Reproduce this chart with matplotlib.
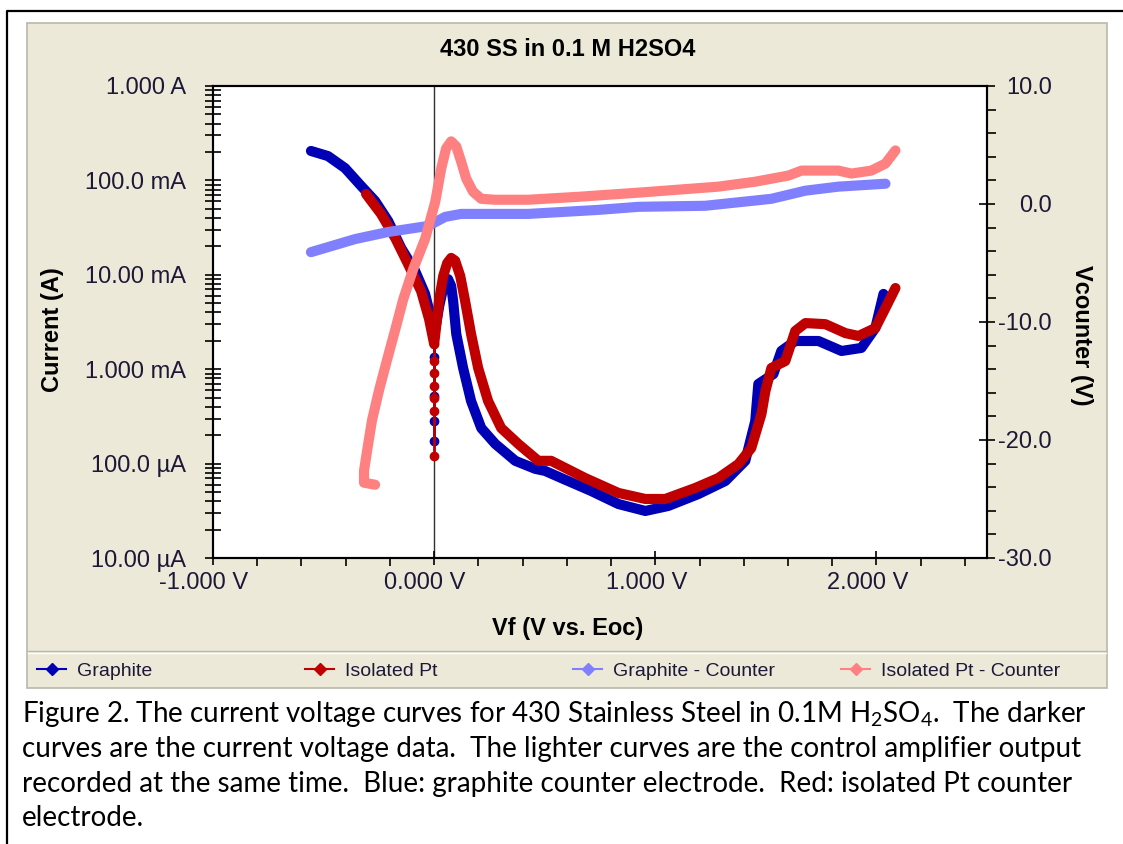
import matplotlib
matplotlib.use('Agg')
import matplotlib.pyplot as plt
from matplotlib.patches import Rectangle
from matplotlib.lines import Line2D
from matplotlib.transforms import ScaledTranslation
from matplotlib.ticker import FixedLocator, LogLocator, NullFormatter, MultipleLocator

plt.rcParams['font.family'] = ['Liberation Sans', 'DejaVu Sans']
plt.rcParams['mathtext.fontset'] = 'custom'
plt.rcParams['mathtext.rm'] = 'Lato'
plt.rcParams['mathtext.it'] = 'Lato:italic'
plt.rcParams['mathtext.bf'] = 'Lato:bold'

# ---------------- data ----------------
title = "430 SS in 0.1 M H2SO4"
series_names = ["Graphite", "Isolated Pt", "Graphite - Counter", "Isolated Pt - Counter"]

graphite_v = [-0.557, -0.48, -0.403, -0.33, -0.267, -0.208, -0.149, -0.086, -0.041, -0.014, 0.0,
              0.023, 0.045, 0.063, 0.077, 0.086, 0.1, 0.131, 0.167, 0.213, 0.276, 0.367, 0.457,
              0.502, 0.575, 0.71, 0.833, 0.955, 1.059, 1.195, 1.317, 1.407, 1.452, 1.466, 1.534,
              1.57, 1.633, 1.738, 1.842, 1.932, 1.995, 2.032]
graphite_i = [0.205, 0.181, 0.135, 0.0873, 0.0605, 0.0372, 0.0192, 0.011, 0.00627, 0.00348, 0.00225,
              0.00467, 0.008, 0.009, 0.0076, 0.00527, 0.00236, 0.00103, 4.6e-4, 2.38e-4, 1.62e-4,
              1.07e-4, 8.8e-5, 8.36e-5, 7.03e-5, 5.13e-5, 3.73e-5, 3.15e-5, 3.56e-5, 4.76e-5,
              6.55e-5, 1.07e-4, 2.82e-4, 6.97e-4, 8.89e-4, 1.56e-3, 1.99e-3, 1.99e-3, 1.56e-3,
              1.68e-3, 2.73e-3, 6.27e-3]
graphite_spike_v = [0.0, 0.0, 0.0, 0.0, 0.0]
graphite_spike_i = [2.25e-3, 1.35e-3, 5.2e-4, 2.8e-4, 1.73e-4]

pt_v = [-0.308, -0.24, -0.176, -0.118, -0.059, -0.023, 0.0, 0.023, 0.041, 0.059, 0.077, 0.095,
        0.118, 0.14, 0.167, 0.199, 0.244, 0.303, 0.38, 0.471, 0.529, 0.683, 0.833, 0.955, 1.045,
        1.181, 1.285, 1.376, 1.434, 1.48, 1.498, 1.525, 1.588, 1.633, 1.679, 1.769, 1.86, 1.919,
        1.995, 2.041, 2.086]
pt_i = [0.0718, 0.0441, 0.0245, 0.013, 0.00673, 0.0034, 0.00185, 0.0055, 0.0097, 0.0133, 0.0151,
        0.0141, 0.0097, 0.00527, 0.00236, 0.00103, 4.6e-4, 2.38e-4, 1.62e-4, 1.07e-4, 1.07e-4,
        7.03e-5, 4.89e-5, 4.22e-5, 4.22e-5, 5.52e-5, 7.03e-5, 9.9e-5, 1.46e-4, 3.35e-4, 5.87e-4,
        1.03e-3, 1.22e-3, 2.54e-3, 3.08e-3, 3.0e-3, 2.41e-3, 2.25e-3, 2.73e-3, 4.45e-3, 7.24e-3]
pt_spike_v = [0.0, 0.0, 0.0, 0.0, 0.0, 0.0, 0.0]
pt_spike_i = [1.85e-3, 1.22e-3, 9.1e-4, 6.6e-4, 4.95e-4, 3.6e-4, 1.2e-4]

gr_counter_v = [-0.557, -0.357, -0.208, -0.027, 0.05, 0.122, 0.425, 0.742, 0.923, 1.226, 1.525,
                1.679, 1.828, 2.041]
gr_counter_vc = [-4.08, -2.97, -2.37, -1.86, -1.09, -0.84, -0.84, -0.5, -0.24, -0.15, 0.44,
                 1.13, 1.47, 1.72]

pt_counter_v = [-0.267, -0.317, -0.317, -0.303, -0.281, -0.249, -0.213, -0.176, -0.14, -0.095,
                -0.041, 0.005, 0.032, 0.054, 0.077, 0.1, 0.122, 0.145, 0.176, 0.213, 0.276, 0.425,
                0.652, 0.923, 1.285, 1.452, 1.602, 1.661, 1.828, 1.887, 1.977, 2.041, 2.086]
pt_counter_vc = [-23.79, -23.62, -22.59, -20.89, -18.33, -15.77, -13.21, -10.65, -8.09, -5.53,
                 -2.97, 0.19, 3.0, 4.71, 5.31, 4.88, 3.6, 2.15, 1.04, 0.44, 0.36, 0.36, 0.61,
                 0.96, 1.47, 1.89, 2.41, 2.83, 2.83, 2.58, 2.83, 3.43, 4.54]

x_major = [-1.0, 0.0, 1.0, 2.0]
x_labels = ["-1.000 V", "0.000 V", "1.000 V", "2.000 V"]
y_major = [1e-5, 1e-4, 1e-3, 1e-2, 1e-1, 1.0]
y_labels = ["10.00 µA", "100.0 µA", "1.000 mA", "10.00 mA", "100.0 mA", "1.000 A"]
y2_major = [-30, -20, -10, 0, 10]
y2_labels = ["-30.0", "-20.0", "-10.0", "0.0", "10.0"]

caption_lines = [
    "Figure 2. The current voltage curves for 430 Stainless Steel in 0.1M H$_\\mathrm{2}$SO$_\\mathrm{4}$.  The darker",
    "curves are the current voltage data.  The lighter curves are the control amplifier output",
    "recorded at the same time.  Blue: graphite counter electrode.  Red: isolated Pt counter",
    "electrode.",
]

# ---------------- styling ----------------
W, H = 1123, 844
C_GR = '#0000B4'
C_PT = '#C00000'
C_GRC = '#8080FF'
C_PTC = '#FF8080'
BEIGE = '#ECE9D8'
TICKC = '#1E1838'

def fx(px):
    return px / W

def fy(py):
    return 1 - py / H

fig = plt.figure(figsize=(W / 100, H / 100), dpi=100)
fig.patch.set_facecolor('white')

# outer frame + panel
fig.patches.append(Rectangle((fx(27), fy(688)), fx(1107) - fx(27), fy(23) - fy(688),
                             transform=fig.transFigure, facecolor=BEIGE, edgecolor='#B8B8AC',
                             lw=1.2, zorder=-10))
fig.add_artist(Line2D([fx(28), fx(1106)], [fy(651), fy(651)], transform=fig.transFigure,
                      color='#B8B8AC', lw=1.0, zorder=-5))
fig.add_artist(Line2D([fx(28), fx(1106)], [fy(653), fy(653)], transform=fig.transFigure,
                      color='#FFFFFF', lw=1.0, zorder=-5))
fig.add_artist(Line2D([fx(7), fx(7), fx(1123)], [fy(844), fy(11), fy(11)], transform=fig.transFigure,
                      color='black', lw=1.6, zorder=-5))

L, R, T, B = 213, 987, 86, 558
ax = fig.add_axes([fx(L), fy(B), fx(R) - fx(L), fy(T) - fy(B)])
ax.set_zorder(1)
ax.set_facecolor('white')
ax.set_yscale('log')
ax.set_xlim(-1.0, 2.5)
ax.set_ylim(1e-5, 1.0)
ax.axvline(0, color='#303030', lw=1.0, zorder=1)

lw = 7.3
ax.plot(graphite_v, graphite_i, color=C_GR, lw=lw, solid_capstyle='round', solid_joinstyle='round', zorder=3)
ax.plot(graphite_spike_v, graphite_spike_i, color=C_GR, lw=2, marker='o', ms=6, zorder=3)
ax.plot(pt_spike_v, pt_spike_i, color=C_PT, lw=2, marker='o', ms=6, zorder=4)
ax.plot(pt_v, pt_i, color=C_PT, lw=lw, solid_capstyle='round', solid_joinstyle='round', zorder=4)

ax.xaxis.set_major_locator(FixedLocator(x_major))
ax.set_xticklabels(x_labels)
ax.xaxis.set_minor_locator(MultipleLocator(0.2))
ax.yaxis.set_major_locator(FixedLocator(y_major))
ax.set_yticklabels(y_labels)
ax.yaxis.set_minor_locator(LogLocator(base=10, subs=[2, 3, 4, 5, 6, 7, 8, 9], numticks=20))
ax.yaxis.set_minor_formatter(NullFormatter())

ax.tick_params(axis='y', which='major', direction='inout', length=11.5, width=1.2, pad=13.5,
               labelsize=17, labelcolor=TICKC)
ax.tick_params(axis='y', which='minor', direction='inout', length=11.5, width=1.2)
ax.tick_params(axis='x', which='major', direction='inout', length=10.5, width=1.2, pad=5,
               labelsize=17, labelcolor=TICKC, top=False)
ax.tick_params(axis='x', which='minor', direction='out', length=6, width=1.2, top=False)
for lab in ax.get_xticklabels():
    lab.set_transform(lab.get_transform() + ScaledTranslation(-9 / 100, 0, fig.dpi_scale_trans))
for s in ax.spines.values():
    s.set_linewidth(1.5)
    s.set_color('black')

ax2 = ax.twinx()
ax2.set_ylim(-30, 10)
ax2.plot(gr_counter_v, gr_counter_vc, color=C_GRC, lw=lw, solid_capstyle='round', solid_joinstyle='round', zorder=3)
ax2.plot(pt_counter_v, pt_counter_vc, color=C_PTC, lw=lw, solid_capstyle='round', solid_joinstyle='round', zorder=4)
ax2.yaxis.set_major_locator(FixedLocator(y2_major))
ax2.set_yticklabels(y2_labels, ha='right')
ax2.yaxis.set_minor_locator(MultipleLocator(2))
ax2.tick_params(axis='y', which='major', direction='inout', length=11.5, width=1.2, pad=41,
                labelsize=17, labelcolor=TICKC)
ax2.tick_params(axis='y', which='minor', direction='out', length=6.5, width=1.2)
for s in ax2.spines.values():
    s.set_linewidth(1.5)

# titles and axis labels
fig.text(fx(568), fy(50), title, ha='center', va='center', fontsize=17, fontweight='bold')
fig.text(fx(568), fy(628), "Vf (V vs. Eoc)", ha='center', va='center', fontsize=17, fontweight='bold')
fig.text(fx(53), fy(330), "Current (A)", ha='center', va='center', rotation=90, fontsize=17,
         fontweight='bold')
fig.text(fx(1082), fy(335), "Vcounter (V)", ha='center', va='center', rotation=270, fontsize=17,
         fontweight='bold')

# legend
leg_colors = [C_GR, C_PT, C_GRC, C_PTC]
leg_x = [37, 305, 573, 841]
for name, c, lx in zip(series_names, leg_colors, leg_x):
    h = Line2D([], [], color=c, lw=1.5, marker='D', ms=6.5)
    fig.legend([h], [name], loc='center left', bbox_to_anchor=(fx(lx), fy(671)), frameon=False,
               fontsize=14, handlelength=1.5, handletextpad=0.55, borderpad=0, borderaxespad=0,
               labelcolor=TICKC)

# caption
cap_y = [722, 757, 792, 826]
for line, yy in zip(caption_lines, cap_y):
    fig.text(fx(22), fy(yy), line, ha='left', va='baseline', fontsize=20, family=['Lato', 'DejaVu Sans'])

fig.savefig('out.png', dpi=100, facecolor='white')
